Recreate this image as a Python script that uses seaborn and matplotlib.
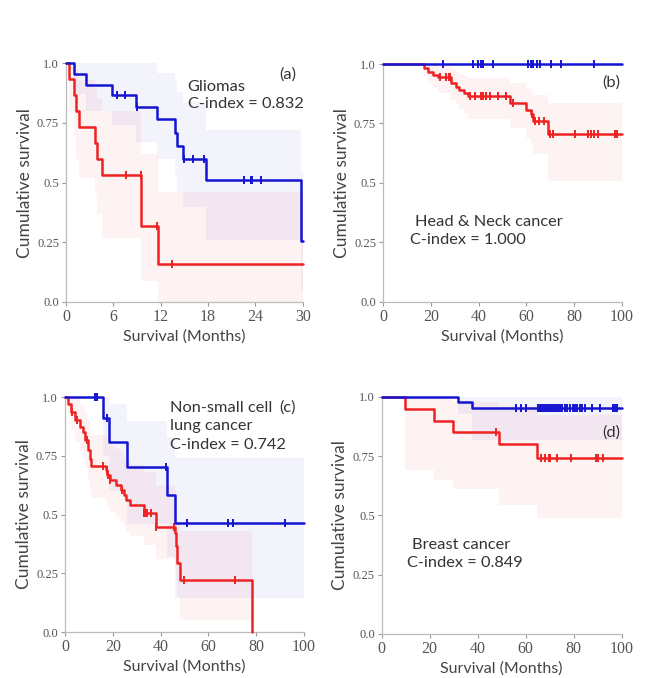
import matplotlib
import matplotlib.pyplot as plt
import numpy as np
import pandas as pd
import seaborn as sns

matplotlib.use("Agg")

# --- DATA ---
# (a) Gliomas
A_BLUE_T = [1.0, 2.5, 5.8, 8.9, 11.5, 13.8, 14.0, 14.8, 17.8, 29.8]
A_BLUE_S = [0.957, 0.911, 0.866, 0.817, 0.768, 0.710, 0.654, 0.598, 0.513, 0.255]
A_BLUE_HI = [1.0, 1.0, 1.0, 1.0, 1.0, 0.96, 0.92, 0.88, 0.84, 0.72, 0.55]
A_BLUE_LO = [1.0, 0.87, 0.80, 0.74, 0.67, 0.60, 0.53, 0.46, 0.40, 0.26, 0.05]
A_BLUE_CENS = [6.5, 7.5, 9.0, 14.9, 16.1, 17.5, 22.6, 23.4, 23.6, 24.7]
A_RED_T = [0.4, 1.0, 1.3, 1.6, 3.7, 3.9, 4.6, 9.5, 11.7]
A_RED_S = [0.933, 0.867, 0.80, 0.733, 0.667, 0.60, 0.533, 0.32, 0.16]
A_RED_HI = [1.0, 1.0, 1.0, 0.97, 0.93, 0.89, 0.85, 0.80, 0.62, 0.46]
A_RED_LO = [1.0, 0.80, 0.70, 0.60, 0.52, 0.45, 0.37, 0.27, 0.09, 0.0]
A_RED_CENS = [7.6, 9.45, 11.5, 13.4]

# (b) Head & Neck cancer
B_BLUE_T = []
B_BLUE_S = []
B_BLUE_HI = [1.0]
B_BLUE_LO = [1.0]
B_BLUE_CENS = [25.2, 37.5, 39.9, 40.9, 41.7, 46.2, 60.8, 61.8, 62.9, 64.3,
               65.7, 70.2, 74.5, 88.4]
B_RED_T = [17.0, 19.0, 21.0, 23.0, 28.5, 30.5, 32.0, 34.0, 35.5, 53.0, 60.0,
           62.0, 63.0, 69.0]
B_RED_S = [0.983, 0.967, 0.955, 0.945, 0.92, 0.905, 0.89, 0.88, 0.865, 0.835,
           0.805, 0.79, 0.76, 0.705]
B_RED_HI = [1.0, 1.0, 1.0, 1.0, 1.0, 0.98, 0.97, 0.96, 0.95, 0.94, 0.92, 0.90,
            0.89, 0.87, 0.835]
B_RED_LO = [1.0, 0.95, 0.92, 0.90, 0.88, 0.85, 0.83, 0.81, 0.79, 0.77, 0.73,
            0.69, 0.66, 0.62, 0.51]
B_RED_CENS = [24.0, 26.5, 27.5, 28.0, 36.5, 38.5, 41.0, 42.0, 43.0, 45.0, 48.0,
              51.5, 54.5, 62.5, 63.5, 65.5, 67.5, 70.0, 71.0, 80.5, 86.0, 87.0,
              88.5, 90.0, 97.0, 98.0]

# (c) Non-small cell lung cancer
C_BLUE_T = [16.0, 18.4, 25.8, 42.8, 46.0]
C_BLUE_S = [0.909, 0.807, 0.704, 0.583, 0.465]
C_BLUE_HI = [1.0, 1.0, 0.97, 0.90, 0.83, 0.74]
C_BLUE_LO = [1.0, 0.75, 0.60, 0.46, 0.32, 0.145]
C_BLUE_CENS = [12.6, 13.5, 17.4, 42.5, 51.3, 68.3, 70.4, 92.0]
C_RED_T = [1.3, 2.4, 4.0, 6.1, 7.5, 8.2, 9.6, 10.3, 11.0, 17.0, 17.7, 18.7,
           21.2, 23.6, 24.5, 25.7, 27.1, 32.9, 37.9, 45.9, 46.3, 47.0, 48.0,
           78.2]
C_RED_S = [0.972, 0.936, 0.904, 0.873, 0.85, 0.816, 0.774, 0.738, 0.706,
           0.689, 0.668, 0.646, 0.625, 0.604, 0.583, 0.562, 0.54, 0.505, 0.448,
           0.42, 0.364, 0.293, 0.22, 0.0]
C_RED_HI = [1.0, 1.0, 1.0, 0.99, 0.97, 0.96, 0.93, 0.90, 0.87, 0.84, 0.83,
            0.81, 0.79, 0.78, 0.76, 0.74, 0.73, 0.71, 0.68, 0.62, 0.60, 0.53,
            0.46, 0.43, 0.43]
C_RED_LO = [1.0, 0.92, 0.86, 0.81, 0.77, 0.74, 0.70, 0.65, 0.60, 0.57, 0.55,
            0.53, 0.51, 0.49, 0.47, 0.45, 0.43, 0.41, 0.37, 0.31, 0.28, 0.22,
            0.15, 0.05, 0.05]
C_RED_CENS = [3.0, 5.2, 9.0, 16.0, 17.5, 18.0, 19.0, 24.0, 33.0, 33.6, 34.2,
              36.0, 38.2, 45.5, 49.8, 71.0]

# (d) Breast cancer
D_BLUE_T = [31.8, 37.8]
D_BLUE_S = [0.977, 0.952]
D_BLUE_HI = [1.0, 1.0, 1.0]
D_BLUE_LO = [1.0, 0.93, 0.82]
D_BLUE_CENS = [56.1, 58.2, 60.3, 65.1, 65.8, 66.5, 67.2, 67.9, 68.6, 69.3,
               70.0, 70.7, 71.4, 72.1, 72.8, 73.5, 74.2, 74.9, 76.3, 77.3,
               78.4, 79.5, 80.5, 81.5, 82.6, 83.6, 84.6, 87.4, 90.8, 96.4,
               97.1, 98.0]
D_RED_T = [9.6, 21.7, 29.7, 48.9, 64.7]
D_RED_S = [0.949, 0.90, 0.851, 0.80, 0.741]
D_RED_HI = [1.0, 1.0, 1.0, 0.98, 0.96, 0.925]
D_RED_LO = [1.0, 0.69, 0.65, 0.61, 0.545, 0.49]
D_RED_CENS = [47.8, 66.5, 68.2, 69.5, 70.3, 73.2, 79.0, 89.2, 90.2, 92.0]

PANELS = [
    dict(rect=[0.102, 0.5546, 0.366, 0.352], xmax=30, xticks=[0, 6, 12, 18, 24, 30],
         blue=(A_BLUE_T, A_BLUE_S, A_BLUE_HI, A_BLUE_LO, A_BLUE_CENS, 30),
         red=(A_RED_T, A_RED_S, A_RED_HI, A_RED_LO, A_RED_CENS, 30),
         texts=[(15.4, 0.90, "Gliomas", "left"), (15.4, 0.83, "C-index = 0.832", "left"),
                (29.2, 0.955, "(a)", "right")]),
    dict(rect=[0.592, 0.5546, 0.369, 0.351], xmax=100, xticks=[0, 20, 40, 60, 80, 100],
         blue=(B_BLUE_T, B_BLUE_S, B_BLUE_HI, B_BLUE_LO, B_BLUE_CENS, 100),
         red=(B_RED_T, B_RED_S, B_RED_HI, B_RED_LO, B_RED_CENS, 100),
         texts=[(13.5, 0.335, "Head & Neck cancer", "left"), (11.5, 0.26, "C-index = 1.000", "left"),
                (99.5, 0.92, "(b)", "right")]),
    dict(rect=[0.1005, 0.0678, 0.369, 0.3466], xmax=100, xticks=[0, 20, 40, 60, 80, 100],
         blue=(C_BLUE_T, C_BLUE_S, C_BLUE_HI, C_BLUE_LO, C_BLUE_CENS, 100),
         red=(C_RED_T, C_RED_S, C_RED_HI, C_RED_LO, C_RED_CENS, 78.2),
         texts=[(44.0, 0.955, "Non-small cell", "left"), (44.0, 0.875, "lung cancer", "left"),
                (44.0, 0.795, "C-index = 0.742", "left"), (96.5, 0.955, "(c)", "right")]),
    dict(rect=[0.590, 0.0649, 0.371, 0.3496], xmax=100, xticks=[0, 20, 40, 60, 80, 100],
         blue=(D_BLUE_T, D_BLUE_S, D_BLUE_HI, D_BLUE_LO, D_BLUE_CENS, 100),
         red=(D_RED_T, D_RED_S, D_RED_HI, D_RED_LO, D_RED_CENS, 100),
         texts=[(12.8, 0.375, "Breast cancer", "left"), (10.6, 0.30, "C-index = 0.849", "left"),
                (99.5, 0.852, "(d)", "right")]),
]

BLUE = "#1414d2"
RED = "#ee2222"
GREY = "#9a9a9a"


def km_frame(times, surv, hi, lo, end):
    t = [0.0] + list(times) + [end]
    s = [1.0] + list(surv) + [surv[-1] if surv else 1.0]
    h = list(hi) + [hi[-1]]
    l = list(lo) + [lo[-1]]
    return pd.DataFrame({"t": t, "s": s, "hi": h, "lo": l})


def draw_curve(ax, spec, color, shade_alpha, z):
    times, surv, hi, lo, cens, end = spec
    df = km_frame(times, surv, hi, lo, end)
    ax.fill_between(df["t"], df["lo"], df["hi"], step="post", color=color,
                    alpha=shade_alpha, lw=0, zorder=1)
    sns.lineplot(data=df, x="t", y="s", ax=ax, color=color, lw=1.8,
                 drawstyle="steps-post", estimator=None, zorder=z, clip_on=False)
    # censored observations sit on the step function
    idx = np.searchsorted(df["t"].values, cens, side="right") - 1
    cy = df["s"].values[idx]
    ax.plot(cens, cy, ls="none", marker="|", ms=6, mew=1.4, color=color,
            zorder=z + 0.5, clip_on=False)


sns.set_theme(style="white")
plt.rcParams["font.family"] = ["Lato", "DejaVu Sans"]

fig = plt.figure(figsize=(6.47, 6.78), dpi=100)

for p in PANELS:
    ax = fig.add_axes(p["rect"])
    draw_curve(ax, p["red"], RED, 0.05, 3)
    draw_curve(ax, p["blue"], BLUE, 0.05, 4)

    ax.set_xlim(0, p["xmax"])
    ax.set_ylim(0, 1.0)
    ax.set_xticks(p["xticks"])
    ax.set_xticklabels([str(v) for v in p["xticks"]], fontsize=11.5,
                       family="Liberation Serif", color="#555555")
    ax.set_yticks([0.0, 0.25, 0.5, 0.75, 1.0])
    ax.set_yticklabels(["0.0", "0.25", "0.5", "0.75", "1.0"], fontsize=9,
                       family="Liberation Serif", color="#555555")
    ax.tick_params(axis="both", length=3, width=0.8, color=GREY, pad=2,
                   left=True, bottom=True)
    for side in ("top", "right"):
        ax.spines[side].set_visible(False)
    for side in ("left", "bottom"):
        ax.spines[side].set_color("#bbbbbb")
        ax.spines[side].set_linewidth(0.9)
    ax.set_xlabel("Survival (Months)", fontsize=11.5, color="#444444", labelpad=3)
    ax.set_ylabel("Cumulative survival", fontsize=12.5, color="#444444", labelpad=3)

    for x, y, s, ha in p["texts"]:
        ax.text(x, y, s, ha=ha, va="center", fontsize=11.8, color="#333333", zorder=5)

fig.savefig("out.png", dpi=100)
